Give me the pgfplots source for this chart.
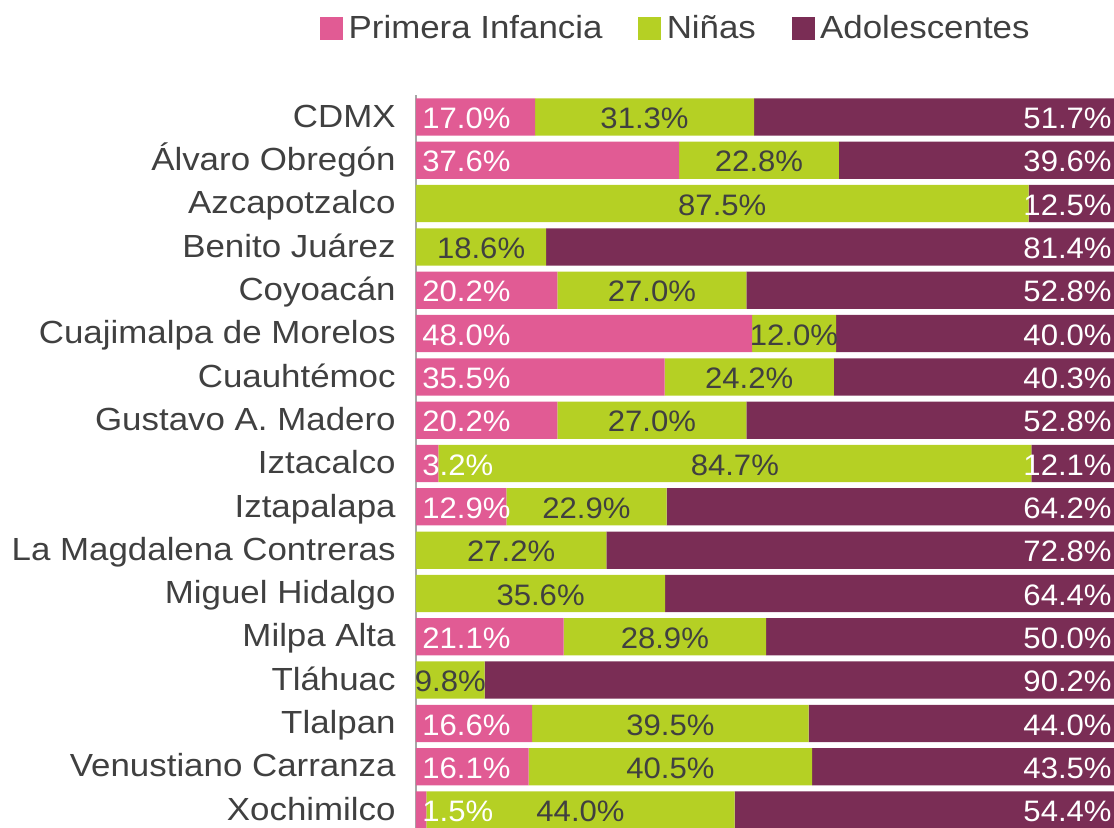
\documentclass[border=0pt]{standalone}
\usepackage{pgfplots}
\pgfplotsset{compat=1.18}
\usepackage{fontspec}
\setmainfont{Liberation Sans}
\newfontfamily\catfont{Liberation Sans}[FakeStretch=1.09]
\newfontfamily\pctfont{Liberation Sans}[FakeStretch=1.05]
\definecolor{cpink}{HTML}{E15B94}
\definecolor{cgreen}{HTML}{B5D024}
\definecolor{cpurple}{HTML}{7A2D55}
\definecolor{ctext}{HTML}{404040}
\tikzset{pct/.style={font=\pctfont\fontsize{14.8}{18}\selectfont, inner sep=0pt, text height=0.9em, text depth=0.18em, yshift=-2.2pt}}
\begin{document}
\begin{tikzpicture}
\useasboundingbox (0,0) rectangle (557pt,413.5pt);
\pgfplotsset{base/.style={scale only axis, width=350pt, height=368.2pt,
  at={(208pt,-2.35pt)}, anchor=south west, xmin=0, xmax=100,
  ymin=-0.5, ymax=16.5, y dir=reverse}}
\begin{axis}[base, xbar stacked, bar width=0.86,
  axis x line=none, axis y line*=left,
  y axis line style={draw=black!35, line width=1pt},
  ytick={0,...,16}, major tick length=0pt,
  yticklabels={CDMX,Álvaro Obregón,Azcapotzalco,Benito Juárez,Coyoacán,Cuajimalpa de Morelos,Cuauhtémoc,Gustavo A. Madero,Iztacalco,Iztapalapa,La Magdalena Contreras,Miguel Hidalgo,Milpa Alta,Tláhuac,Tlalpan,Venustiano Carranza,Xochimilco},
  yticklabel style={anchor=east, inner sep=0pt, xshift=-10pt, yshift=-1.5pt, text=ctext, font=\catfont\fontsize{16}{19}\selectfont, text height=0.9em, text depth=0.18em},
  legend style={at={(-0.1371,1.091)}, anchor=west, draw=none, fill=none,
    inner sep=0pt, outer sep=0pt,
    legend columns=-1, font=\catfont\fontsize{16}{19}\selectfont, text=ctext,
    nodes={inner sep=2.8pt},
    /tikz/every even column/.append style={column sep=15pt}},
  legend image code/.code={\fill[#1] (0pt,-5.75pt) rectangle (11.5pt,5.75pt);},
]
\addplot[draw=none, fill=cpink] coordinates {
(17.0,0) (37.6,1) (0,2) (0,3) (20.2,4) (48.0,5) (35.5,6) (20.2,7) (3.2,8) (12.9,9) (0,10) (0,11) (21.1,12) (0,13) (16.6,14) (16.1,15) (1.5,16)};
\addplot[draw=none, fill=cgreen] coordinates {
(31.3,0) (22.8,1) (87.5,2) (18.6,3) (27.0,4) (12.0,5) (24.2,6) (27.0,7) (84.7,8) (22.9,9) (27.2,10) (35.6,11) (28.9,12) (9.8,13) (39.5,14) (40.5,15) (44.0,16)};
\addplot[draw=none, fill=cpurple] coordinates {
(51.7,0) (39.6,1) (12.5,2) (81.4,3) (52.8,4) (40.0,5) (40.3,6) (52.8,7) (12.1,8) (64.2,9) (72.8,10) (64.4,11) (50.0,12) (90.2,13) (44.0,14) (43.5,15) (54.4,16)};
\legend{Primera Infancia, Niñas, Adolescentes}
\end{axis}
\begin{axis}[base, hide axis, clip=false]
\addplot[only marks, mark size=0pt, nodes near coords, point meta=explicit symbolic,
  nodes near coords style={pct, anchor=west, xshift=3pt, text=white}] coordinates {
(0,0)[17.0\%] (0,1)[37.6\%] (0,4)[20.2\%] (0,5)[48.0\%] (0,6)[35.5\%] (0,7)[20.2\%] (0,8)[3.2\%] (0,9)[12.9\%] (0,12)[21.1\%] (0,14)[16.6\%] (0,15)[16.1\%] (0,16)[1.5\%]};
\addplot[only marks, mark size=0pt, nodes near coords, point meta=explicit symbolic,
  nodes near coords style={pct, anchor=center, text=ctext}] coordinates {
(32.65,0)[31.3\%] (49.0,1)[22.8\%] (43.75,2)[87.5\%] (9.3,3)[18.6\%] (33.7,4)[27.0\%] (54.0,5)[12.0\%] (47.6,6)[24.2\%] (33.7,7)[27.0\%] (45.55,8)[84.7\%] (24.35,9)[22.9\%] (13.6,10)[27.2\%] (17.8,11)[35.6\%] (35.55,12)[28.9\%] (4.9,13)[9.8\%] (36.35,14)[39.5\%] (36.35,15)[40.5\%] (23.5,16)[44.0\%]};
\addplot[only marks, mark size=0pt, nodes near coords, point meta=explicit symbolic,
  nodes near coords style={pct, anchor=east, xshift=-2pt, text=white}] coordinates {
(100,0)[51.7\%] (100,1)[39.6\%] (100,2)[12.5\%] (100,3)[81.4\%] (100,4)[52.8\%] (100,5)[40.0\%] (100,6)[40.3\%] (100,7)[52.8\%] (100,8)[12.1\%] (100,9)[64.2\%] (100,10)[72.8\%] (100,11)[64.4\%] (100,12)[50.0\%] (100,13)[90.2\%] (100,14)[44.0\%] (100,15)[43.5\%] (100,16)[54.4\%]};
\end{axis}
\end{tikzpicture}
\end{document}
